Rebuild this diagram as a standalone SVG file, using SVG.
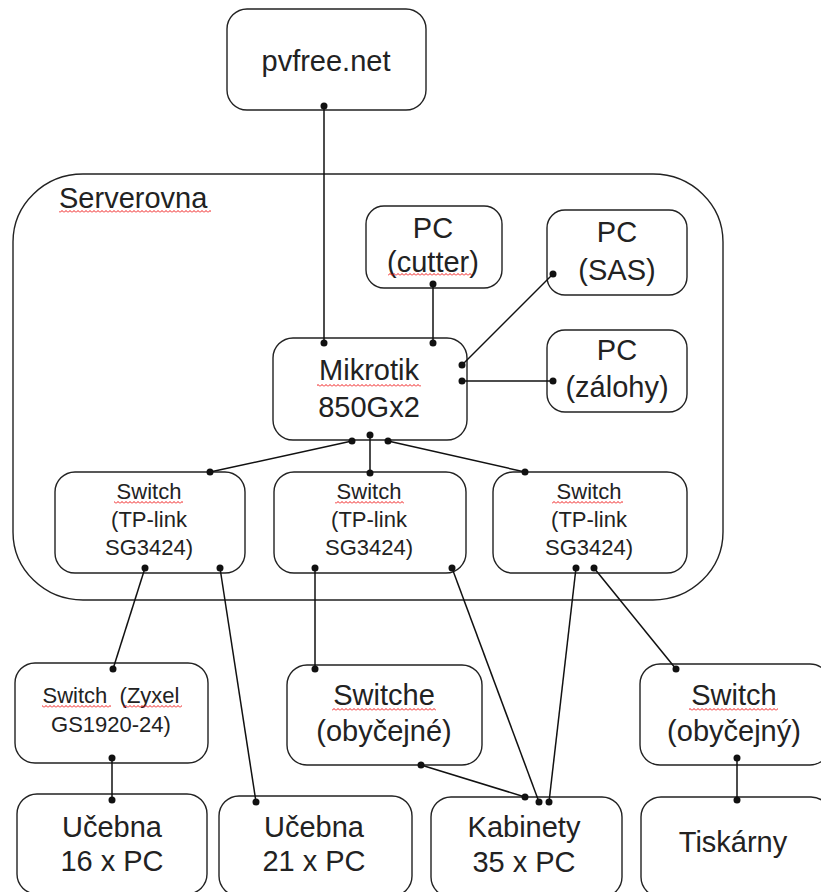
<svg xmlns="http://www.w3.org/2000/svg" width="821" height="892" viewBox="0 0 821 892">
<style>
.box{fill:#fff;stroke:#222;stroke-width:1.4}
.cont{fill:none;stroke:#222;stroke-width:1.4}
.t{font-family:"Liberation Sans",Arial,sans-serif;font-size:29px;fill:#222;text-anchor:middle}
.s{font-family:"Liberation Sans",Arial,sans-serif;font-size:22px;fill:#222;text-anchor:middle}
.l{fill:none;stroke:#111;stroke-width:1.5}
.d{fill:#111}
.sq{fill:url(#squiggle)}
</style>
<defs>
<pattern id="squiggle" patternUnits="userSpaceOnUse" x="0" y="0" width="4" height="3">
<path d="M0,2.5 L2,0.5 L4,2.5" fill="none" stroke="#e00" stroke-width="0.9"/>
</pattern>
</defs>

<g id="serverovna">
<rect class="cont" x="13" y="174" width="710" height="426" rx="70" ry="68"/>
<text class="t" x="59" y="208" style="text-anchor:start">Serverovna</text>
<rect class="sq" x="59" y="210" width="152" height="3"/>
</g>

<g id="pvfree">
<rect class="box" x="227" y="9" width="199" height="101" rx="20"/>
<text class="t" x="326" y="71">pvfree.net</text>
</g>

<g id="pc-cutter">
<rect class="box" x="366" y="206" width="136" height="82" rx="18"/>
<text class="t" x="433" y="238">PC</text>
<text class="t" x="433" y="272">(cutter)</text>
<rect class="sq" x="388" y="273" width="84" height="3"/>
</g>

<g id="pc-sas">
<rect class="box" x="547" y="210" width="140" height="85" rx="18"/>
<text class="t" x="617" y="242">PC</text>
<text class="t" x="617" y="280">(SAS)</text>
</g>

<g id="pc-zalohy">
<rect class="box" x="547" y="330" width="140" height="82" rx="18"/>
<text class="t" x="617" y="360">PC</text>
<text class="t" x="617" y="397">(zálohy)</text>
</g>

<g id="mikrotik">
<rect class="box" x="273" y="338" width="194" height="102" rx="20"/>
<text class="t" x="369" y="380">Mikrotik</text>
<text class="t" x="369" y="417">850Gx2</text>
<rect class="sq" x="317" y="384" width="104" height="3"/>
</g>

<g id="switch1">
<rect class="box" x="55" y="472" width="190" height="101" rx="20"/>
<text class="s" x="149" y="499">Switch</text>
<text class="s" x="149" y="527">(TP-link</text>
<text class="s" x="149" y="555">SG3424)</text>
<rect class="sq" x="114" y="501" width="69" height="3"/>
</g>

<g id="switch2">
<rect class="box" x="274" y="472" width="192" height="101" rx="20"/>
<text class="s" x="369" y="499">Switch</text>
<text class="s" x="369" y="527">(TP-link</text>
<text class="s" x="369" y="555">SG3424)</text>
<rect class="sq" x="335" y="501" width="69" height="3"/>
</g>

<g id="switch3">
<rect class="box" x="493" y="472" width="194" height="101" rx="20"/>
<text class="s" x="589" y="499">Switch</text>
<text class="s" x="589" y="527">(TP-link</text>
<text class="s" x="589" y="555">SG3424)</text>
<rect class="sq" x="552" y="501" width="71" height="3"/>
</g>

<g id="switch-zyxel">
<rect class="box" x="15" y="663" width="193" height="100" rx="20"/>
<text class="s" x="111" y="703" xml:space="preserve">Switch  (Zyxel</text>
<text class="s" x="111" y="732">GS1920-24)</text>
<rect class="sq" x="42" y="705" width="69" height="3"/>
<rect class="sq" x="123" y="705" width="59" height="3"/>
</g>

<g id="switche-obycejne">
<rect class="box" x="287" y="665" width="195" height="100" rx="20"/>
<text class="t" x="384" y="705">Switche</text>
<text class="t" x="384" y="741">(obyčejné)</text>
<rect class="sq" x="332" y="708" width="104" height="3"/>
</g>

<g id="switch-obycejny">
<rect class="box" x="640" y="664" width="190" height="101" rx="20"/>
<text class="t" x="734" y="705">Switch</text>
<text class="t" x="734" y="741">(obyčejný)</text>
<rect class="sq" x="689" y="708" width="89" height="3"/>
</g>

<g id="ucebna16">
<rect class="box" x="17" y="794" width="190" height="100" rx="20"/>
<text class="t" x="112" y="837">Učebna</text>
<text class="t" x="112" y="871">16 x PC</text>
</g>

<g id="ucebna21">
<rect class="box" x="219" y="796" width="193" height="100" rx="20"/>
<text class="t" x="314" y="837">Učebna</text>
<text class="t" x="314" y="871">21 x PC</text>
</g>

<g id="kabinety">
<rect class="box" x="431" y="797" width="191" height="100" rx="20"/>
<text class="t" x="524" y="837">Kabinety</text>
<text class="t" x="524" y="872">35 x PC</text>
</g>

<g id="tiskarny">
<rect class="box" x="641" y="797" width="190" height="100" rx="20"/>
<text class="t" x="733" y="852">Tiskárny</text>
</g>

<g id="connectors">
<line class="l" x1="324" y1="106" x2="324" y2="343"/>
<line class="l" x1="433" y1="284" x2="433" y2="343"/>
<line class="l" x1="553" y1="274" x2="462" y2="365"/>
<line class="l" x1="553" y1="381" x2="462" y2="381"/>
<line class="l" x1="352" y1="441" x2="210" y2="472"/>
<line class="l" x1="370" y1="435" x2="370" y2="473"/>
<line class="l" x1="388" y1="441" x2="525" y2="472"/>
<line class="l" x1="145" y1="568" x2="113" y2="669"/>
<line class="l" x1="220" y1="568" x2="256" y2="802"/>
<line class="l" x1="112" y1="758" x2="112" y2="800"/>
<line class="l" x1="315" y1="568" x2="315" y2="669"/>
<line class="l" x1="452" y1="568" x2="539" y2="802"/>
<line class="l" x1="576" y1="568" x2="549" y2="802"/>
<line class="l" x1="594" y1="568" x2="676" y2="669"/>
<line class="l" x1="421" y1="765" x2="525" y2="797"/>
<line class="l" x1="737" y1="758" x2="737" y2="800"/>
<circle class="d" cx="324" cy="106" r="3.5"/>
<circle class="d" cx="324" cy="343" r="3.5"/>
<circle class="d" cx="433" cy="284" r="3.5"/>
<circle class="d" cx="433" cy="343" r="3.5"/>
<circle class="d" cx="553" cy="274" r="3.5"/>
<circle class="d" cx="462" cy="365" r="3.5"/>
<circle class="d" cx="553" cy="381" r="3.5"/>
<circle class="d" cx="462" cy="381" r="3.5"/>
<circle class="d" cx="352" cy="441" r="3.5"/>
<circle class="d" cx="370" cy="435" r="3.5"/>
<circle class="d" cx="388" cy="441" r="3.5"/>
<circle class="d" cx="210" cy="472" r="3.5"/>
<circle class="d" cx="370" cy="473" r="3.5"/>
<circle class="d" cx="525" cy="472" r="3.5"/>
<circle class="d" cx="145" cy="568" r="3.5"/>
<circle class="d" cx="220" cy="568" r="3.5"/>
<circle class="d" cx="315" cy="568" r="3.5"/>
<circle class="d" cx="452" cy="568" r="3.5"/>
<circle class="d" cx="576" cy="568" r="3.5"/>
<circle class="d" cx="594" cy="568" r="3.5"/>
<circle class="d" cx="113" cy="669" r="3.5"/>
<circle class="d" cx="112" cy="758" r="3.5"/>
<circle class="d" cx="112" cy="800" r="3.5"/>
<circle class="d" cx="256" cy="802" r="3.5"/>
<circle class="d" cx="315" cy="669" r="3.5"/>
<circle class="d" cx="421" cy="765" r="3.5"/>
<circle class="d" cx="525" cy="797" r="3.5"/>
<circle class="d" cx="539" cy="802" r="3.5"/>
<circle class="d" cx="549" cy="802" r="3.5"/>
<circle class="d" cx="676" cy="669" r="3.5"/>
<circle class="d" cx="737" cy="758" r="3.5"/>
<circle class="d" cx="737" cy="800" r="3.5"/>
</g>
</svg>
